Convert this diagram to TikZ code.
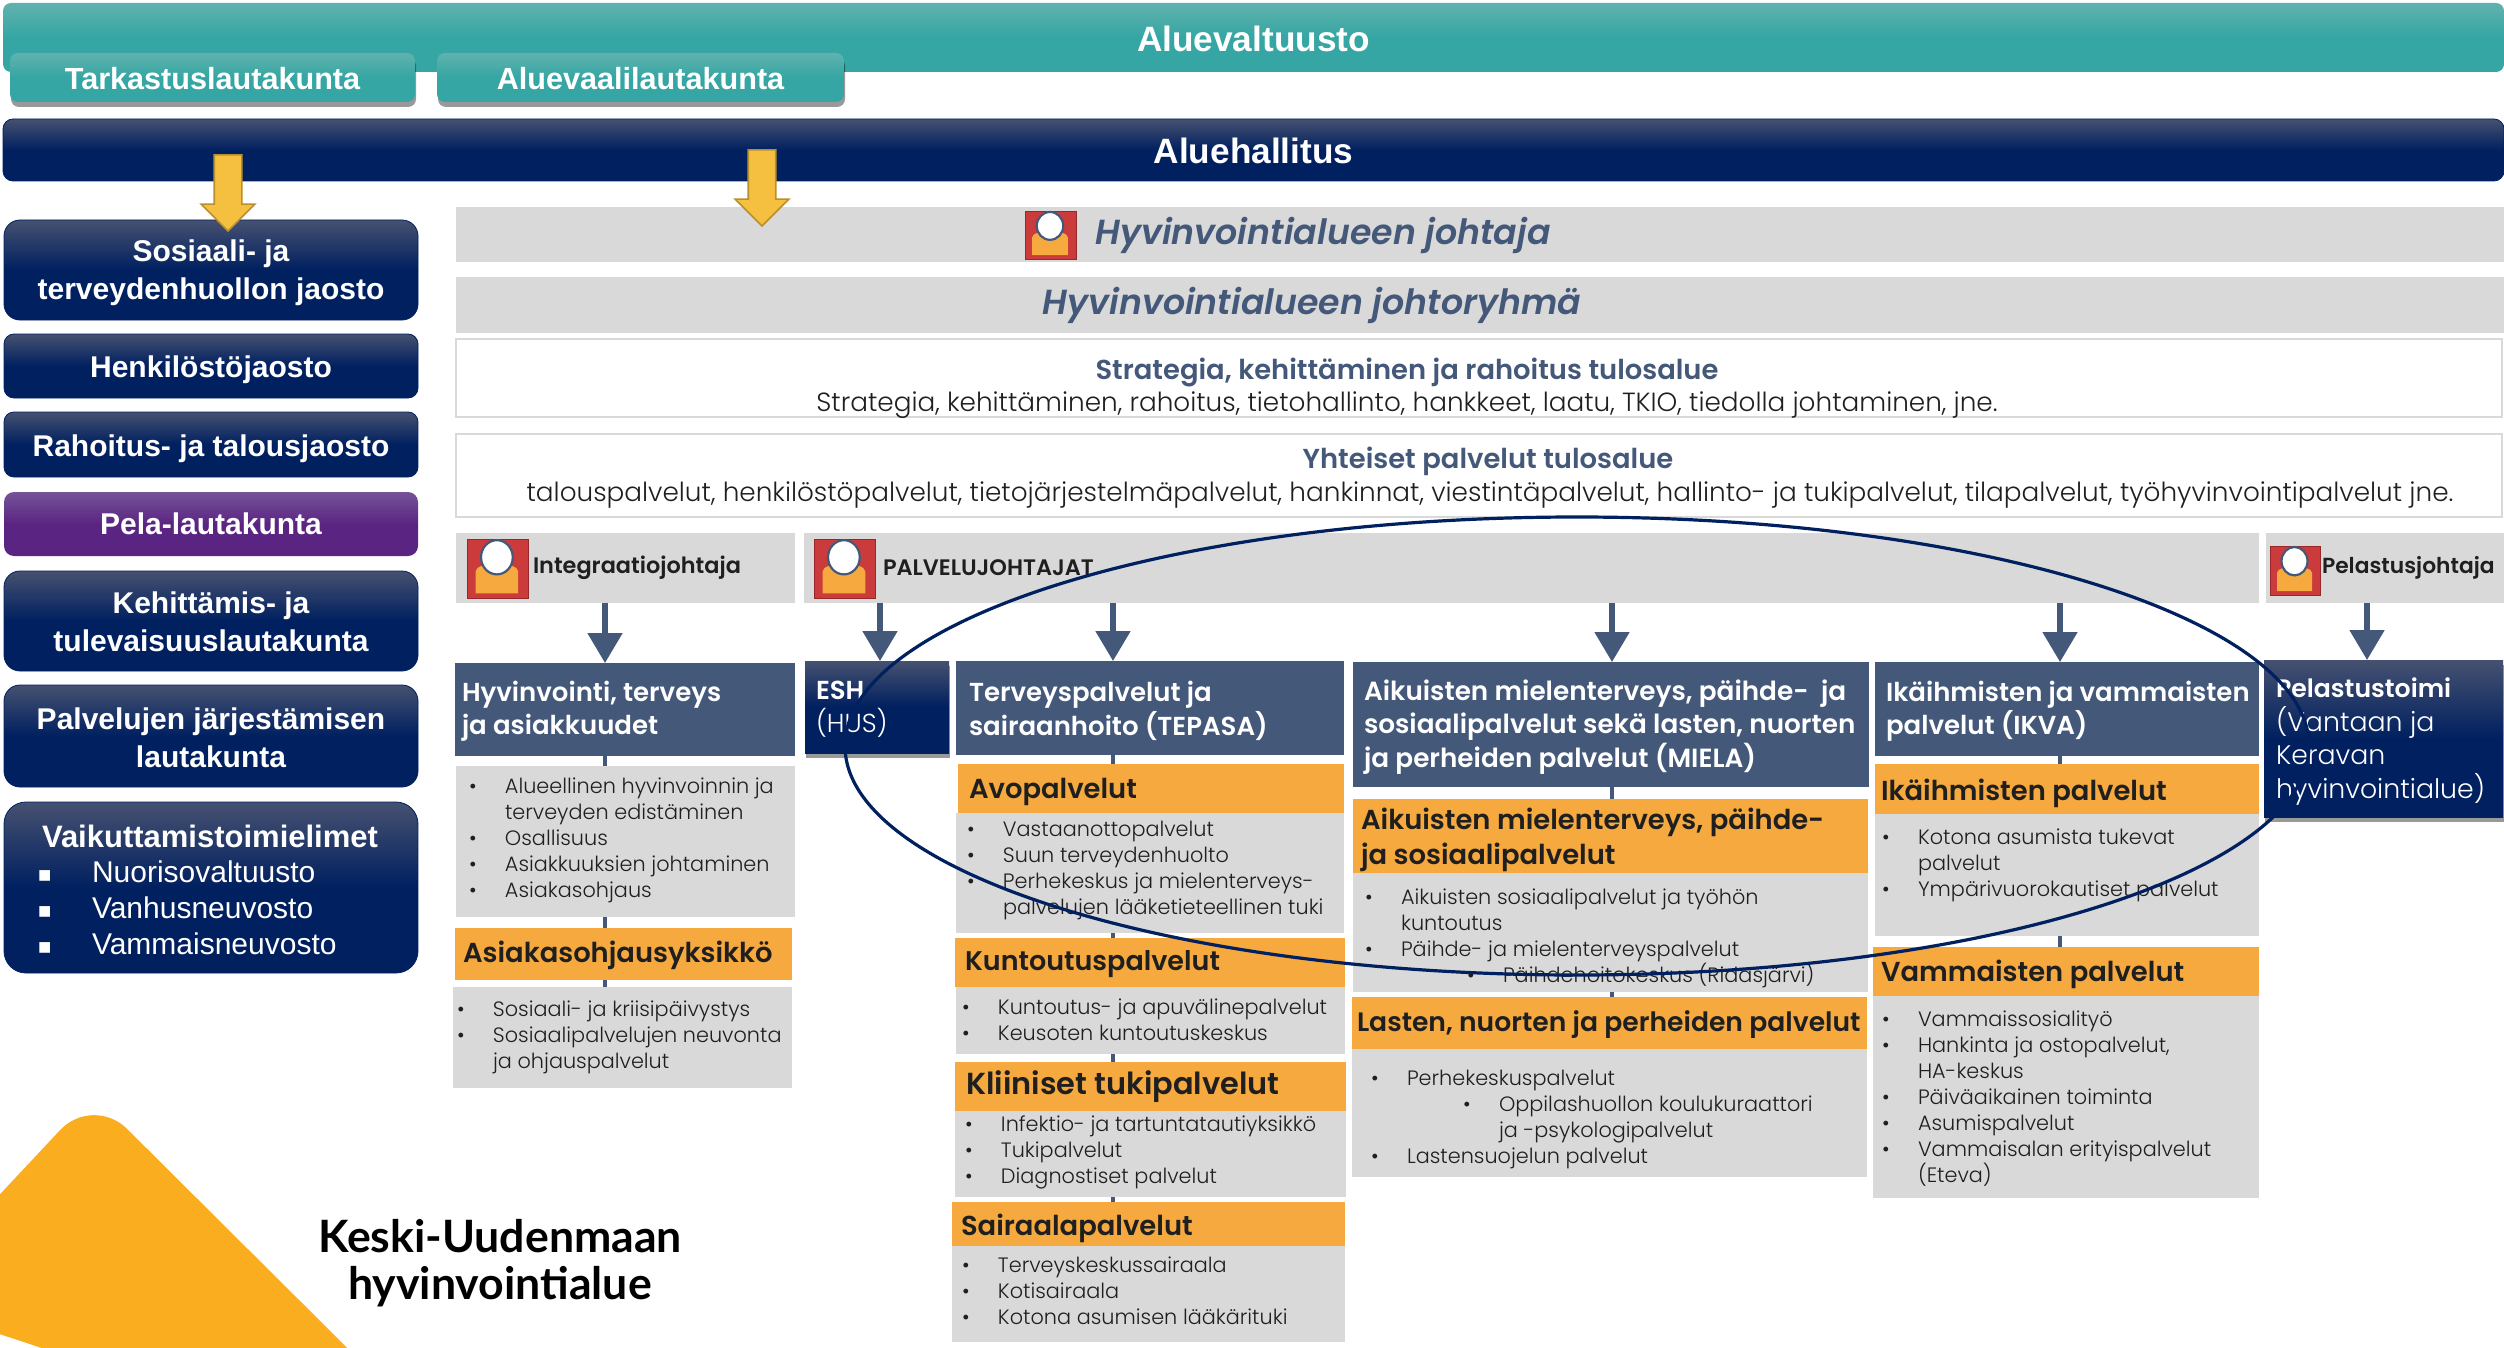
\documentclass[tikz,border=0pt]{standalone}
\usepackage{fontspec}
\usetikzlibrary{arrows.meta,shadows,shapes.arrows}
\setmainfont{Liberation Sans}
\newfontfamily\gothic{Poppins Light}
\newfontfamily\gothicb{Poppins SemiBold}
\newfontfamily\gothicbi{Poppins SemiBold Italic}
\newfontfamily\latof{Lato}
\definecolor{navyA}{HTML}{002060}
\definecolor{navyB}{HTML}{465170}
\definecolor{tealA}{HTML}{35A6A3}
\definecolor{tealB}{HTML}{60B2AE}
\definecolor{purpA}{HTML}{5A2582}
\definecolor{purpB}{HTML}{765298}
\definecolor{slate}{HTML}{44587A}
\definecolor{greybg}{HTML}{D9D9D9}
\definecolor{orng}{HTML}{F5A93F}
\definecolor{gold}{HTML}{F5BF3F}
\definecolor{goldl}{HTML}{B98F2C}
\definecolor{tri}{HTML}{F9AD1F}
\definecolor{ink}{HTML}{1F1F1F}
\definecolor{iconred}{HTML}{CC3B3B}
\definecolor{iconedge}{HTML}{962828}
\pgfdeclareverticalshading{navyshade}{100bp}{color(0bp)=(navyA);color(50bp)=(navyA);color(75bp)=(navyB);color(100bp)=(navyB)}
\pgfdeclareverticalshading{tealshade}{100bp}{color(0bp)=(tealA);color(50bp)=(tealA);color(75bp)=(tealB);color(100bp)=(tealB)}
\pgfdeclareverticalshading{purpshade}{100bp}{color(0bp)=(purpA);color(50bp)=(purpA);color(75bp)=(purpB);color(100bp)=(purpB)}
\tikzset{
 base/.style={rectangle,inner sep=0pt,outer sep=0pt},
 navybar/.style={base,shading=navyshade,draw=navyA,line width=.4pt,rounded corners=5pt},
 tealbar/.style={base,shading=tealshade,rounded corners=4pt},
 purpbar/.style={base,shading=purpshade,rounded corners=5pt},
 barlabel/.style={base,text=white,align=center,font=\bfseries\fontsize{15}{19.2}\selectfont},
 softshadow/.style={drop shadow={shadow xshift=.5pt,shadow yshift=-2.5pt,opacity=.4,fill=black}},
 greybox/.style={base,fill=greybg},
 outlinebox/.style={base,fill=white,draw=greybg,line width=1.2pt},
 orangebox/.style={base,fill=orng},
 slatebox/.style={base,fill=slate},
 navybox/.style={base,shading=navyshade},
 titletext/.style={base,text=slate,font=\gothicbi\fontsize{17.4}{20}\selectfont},
 boxhead/.style={base,text=slate,font=\gothicb\fontsize{13.7}{16}\selectfont},
 boxbody/.style={base,text=ink,font=\gothic\fontsize{13.15}{15}\selectfont},
 chief/.style={base,anchor=west,text=ink,font=\gothicb\fontsize{11.2}{13}\selectfont},
 whitehead/.style={base,anchor=west,align=left,text=white,font=\gothicb\fontsize{13}{16.7}\selectfont},
 orangehead/.style={base,anchor=west,align=left,text=ink,font=\gothicb\fontsize{13.7}{17.5}\selectfont},
 listtext/.style={base,anchor=north west,align=left,text=ink,font=\gothic\fontsize{10.4}{13}\selectfont},
 bluearrow/.style={draw=slate,line width=2.6pt,-{Triangle[width=17pt,length=15pt]}},
 stub/.style={draw=slate,line width=2.4pt},
 goldarrow/.style={single arrow,draw=goldl,fill=gold,line width=.8pt,inner sep=0pt,minimum height=38pt,single arrow head extend=6.5pt,single arrow tip angle=90,single arrow head indent=0pt,shape border rotate=270},
}
\newcommand{\bx}[6][]{\pgfmathsetmacro\bw{(#5-#3)*0.5}\pgfmathsetmacro\bh{(#6-#4)*0.5}\node[#1,minimum width=\bw pt,minimum height=\bh pt] (#2) at ({(#3+#5)/2},{(#4+#6)/2}) {};}
\newcommand{\lb}[3][]{\node[barlabel,#1] (#2t) at (#2.center) {#3};}
\newcommand{\personicon}[4]{\pgfmathsetmacro\iw{(#3-#1)*0.5}\pgfmathsetmacro\ih{(#4-#2)*0.5}
 \begin{scope}[shift={(#1,#2)},x=\iw pt,y=-\ih pt]
 \filldraw[fill=iconred,draw=iconedge,line width=.4pt] (0,0) rectangle (1,1);
 \fill[orng] (0.14,0.92)--(0.14,0.55) .. controls (0.14,0.38) and (0.84,0.38) .. (0.84,0.55) -- (0.84,0.92) -- cycle;
 \filldraw[fill=white,draw=slate,line width=1.1pt] (0.49,0.31) ellipse [x radius=0.26,y radius=0.29];
 \end{scope}}
\newcommand{\bl}{\llap{\makebox[18pt][l]{•}}}
\newcommand{\subbl}[1]{\hspace*{#1}\llap{\makebox[18pt][l]{•}}}
\newcommand{\sq}{\llap{\makebox[27pt][l]{\fontsize{11}{11}\selectfont ■}}}
\begin{document}
\begin{tikzpicture}[x=.5pt,y=-.5pt]
\useasboundingbox (0,0) rectangle (2504,1348);
\fill[white] (0,0) rectangle (2504,1348);
% corner triangle
\begin{scope}
\clip (0,0) rectangle (2504,1348);
\fill[tri,rounded corners=24pt] (-100,1301) -- (93,1095) -- (500,1500) -- cycle;
\end{scope}
\node[base,align=center,text=black,font=\latof\bfseries\fontsize{22.3}{23.5}\selectfont] (brand) at (500,1263) {Keski-Uudenmaan\\hyvinvointialue};
% top bars
\bx[tealbar]{valt}{3}{3}{2504}{72}
\lb[font=\bfseries\fontsize{17.6}{22}\selectfont,yshift=-.6pt]{valt}{Aluevaltuusto}
\bx[tealbar,softshadow]{tark}{10}{53}{415}{102}
\lb[font=\bfseries\fontsize{15.3}{19}\selectfont,yshift=-.4pt]{tark}{Tarkastuslautakunta}
\bx[tealbar,softshadow]{vaali}{437}{53}{844}{102}
\lb[font=\bfseries\fontsize{15.3}{19}\selectfont,yshift=-.4pt]{vaali}{Aluevaalilautakunta}
\bx[navybar]{halli}{3}{119}{2504}{181}
\lb[font=\bfseries\fontsize{17.6}{22}\selectfont,yshift=-.6pt]{halli}{Aluehallitus}
% left column
\bx[navybar,rounded corners=8pt]{jao1}{4}{220}{418}{320}
\lb[yshift=-1.5pt]{jao1}{Sosiaali- ja\\terveydenhuollon jaosto}
\bx[navybar]{jao2}{4}{334}{418}{398}
\lb[yshift=-2pt]{jao2}{Henkilöstöjaosto}
\bx[navybar]{jao3}{4}{412}{418}{477}
\lb[yshift=-2pt]{jao3}{Rahoitus- ja talousjaosto}
\bx[purpbar]{pela}{4}{492}{418}{556}
\lb{pela}{Pela-lautakunta}
\bx[navybar,rounded corners=8pt]{kehi}{4}{571}{418}{671}
\lb[yshift=-.5pt]{kehi}{Kehittämis- ja\\tulevaisuuslautakunta}
\bx[navybar,rounded corners=8pt]{jarj}{4}{685}{418}{787}
\lb[yshift=-.8pt]{jarj}{Palvelujen järjestämisen\\lautakunta}
\bx[navybar,rounded corners=11pt]{vaik}{4}{802}{418}{973}
\node[barlabel,font=\bfseries\fontsize{15.5}{19}\selectfont] (vaikt) at (210,836) {Vaikuttamistoimielimet};
\node[base,anchor=north west,align=left,text=white,font=\fontsize{15}{17.9}\selectfont] (vaikl) at (92,861) {\sq Nuorisovaltuusto\\\sq Vanhusneuvosto\\\sq Vammaisneuvosto};
% grey bars
\bx[greybox]{johtaja}{456}{207}{2504}{262}
\bx[greybox]{ryhma}{456}{277}{2504}{333}
\personicon{1025}{211}{1076}{259}
\node[titletext] (johtajat) at (1323,235) {Hyvinvointialueen johtaja};
\node[titletext] (ryhmat) at (1312,305) {Hyvinvointialueen johtoryhmä};
\bx[outlinebox]{strat}{456}{339}{2502}{417}
\node[boxhead] (stratt) at (1407,372) {Strategia, kehittäminen ja rahoitus tulosalue};
\node[boxbody] (strats) at (1407,405) {Strategia, kehittäminen, rahoitus, tietohallinto, hankkeet, laatu, TKIO, tiedolla johtaminen, jne.};
\bx[outlinebox]{yht}{456}{434}{2502}{517}
\node[boxhead] (yhtt) at (1488,461) {Yhteiset palvelut tulosalue};
\node[boxbody] (yhts) at (1490,495) {talouspalvelut, henkilöstöpalvelut, tietojärjestelmäpalvelut, hankinnat, viestintäpalvelut, hallinto- ja tukipalvelut, tilapalvelut, työhyvinvointipalvelut jne.};
% chiefs
\bx[greybox]{intg}{456}{533}{795}{603}
\bx[greybox]{palv}{804}{533}{2259}{603}
\bx[greybox]{pelj}{2266}{533}{2504}{603}
\personicon{467}{539}{528}{598}
\personicon{814}{539}{875}{598}
\personicon{2270}{546}{2320}{595}
\node[chief] (intgt) at (533,568) {Integraatiojohtaja};
\node[chief] (palvt) at (883,568) {PALVELUJOHTAJAT};
\node[chief,font=\gothicb\fontsize{10.9}{13}\selectfont] (peljt) at (2322,568) {Pelastusjohtaja};
\coordinate (c1) at (605,0);
\coordinate (c2) at (880,0);
\coordinate (c3) at (1113,0);
\coordinate (c4) at (1612,0);
\coordinate (c5) at (2060,0);
\coordinate (c6) at (2367,0);
% column 1
\bx[slatebox]{hyv}{455}{663}{795}{756}
\node[whitehead] (hyvt) at (462,711) {Hyvinvointi, terveys\\ja asiakkuudet};
\bx[greybox]{hyvl}{456}{766}{795}{917}
\node[listtext] (hyvlt) at (505,778) {\bl Alueellinen hyvinvoinnin ja\\terveyden edistäminen\\\bl Osallisuus\\\bl Asiakkuuksien johtaminen\\\bl Asiakasohjaus};
\bx[orangebox]{asi}{455}{928}{792}{980}
\node[orangehead] (asit) at (463,955) {Asiakasohjausyksikkö};
\bx[greybox]{asil}{453}{987}{792}{1088}
\node[listtext] (asilt) at (493,1001) {\bl Sosiaali- ja kriisipäivystys\\\bl Sosiaalipalvelujen neuvonta\\ja ohjauspalvelut};
% ESH
\bx[navybox,softshadow]{esh}{805}{661}{949}{753}
\node[base,anchor=north west,align=left,text=white,font=\gothic\fontsize{13}{16.5}\selectfont] (esht) at (816,681) {{\gothicb ESH}\\(HUS)};
% TEPASA
\bx[slatebox]{tep}{956}{661}{1344}{755}
\node[whitehead] (tept) at (969,711) {Terveyspalvelut ja\\sairaanhoito (TEPASA)};
\bx[orangebox]{avo}{958}{764}{1344}{813}
\node[orangehead] (avot) at (969,792) {Avopalvelut};
\bx[greybox]{avol}{956}{813}{1344}{933}
\node[listtext] (avolt) at (1003,821) {\bl Vastaanottopalvelut\\\bl Suun terveydenhuolto\\\bl Perhekeskus ja mielenterveys-\\palvelujen lääketieteellinen tuki};
\bx[orangebox]{kun}{955}{938}{1345}{987}
\node[orangehead,font=\gothicb\fontsize{13.5}{17.5}\selectfont] (kunt) at (965,964) {Kuntoutuspalvelut};
\bx[greybox]{kunl}{956}{987}{1345}{1054}
\node[listtext] (kunlt) at (998,999) {\bl Kuntoutus- ja apuvälinepalvelut\\\bl Keusoten kuntoutuskeskus};
\bx[orangebox]{kli}{955}{1062}{1346}{1111}
\node[orangehead,font=\gothicb\fontsize{15.2}{17.5}\selectfont] (klit) at (966,1087) {Kliiniset tukipalvelut};
\bx[greybox]{klil}{955}{1111}{1346}{1197}
\node[listtext] (klilt) at (1001,1116) {\bl Infektio- ja tartuntatautiyksikkö\\\bl Tukipalvelut\\\bl Diagnostiset palvelut};
\bx[orangebox]{sai}{952}{1202}{1345}{1246}
\node[orangehead] (sait) at (961,1228) {Sairaalapalvelut};
\bx[greybox]{sail}{952}{1246}{1345}{1342}
\node[listtext] (sailt) at (998,1257) {\bl Terveyskeskussairaala\\\bl Kotisairaala\\\bl Kotona asumisen lääkärituki};
% MIELA
\bx[slatebox]{mie}{1353}{662}{1869}{787}
\node[whitehead,font=\gothicb\fontsize{13.15}{16.7}\selectfont] (miet) at (1364,727) {Aikuisten mielenterveys, päihde-\ \ ja\\sosiaalipalvelut sekä lasten, nuorten\\ja perheiden palvelut (MIELA)};
\bx[orangebox]{aik}{1353}{799}{1868}{873}
\node[orangehead] (aikt) at (1361,840) {Aikuisten mielenterveys, päihde-\\ja sosiaalipalvelut};
\bx[greybox]{aikl}{1353}{873}{1868}{992}
\node[listtext] (aiklt) at (1401,889) {\bl Aikuisten sosiaalipalvelut ja työhön\\kuntoutus\\\bl Päihde- ja mielenterveyspalvelut\\\subbl{51pt}Päihdehoitokeskus (Ridasjärvi)};
\bx[orangebox]{las}{1352}{997}{1867}{1049}
\node[orangehead,font=\gothicb\fontsize{13.3}{17.5}\selectfont] (last) at (1357,1025) {Lasten, nuorten ja perheiden palvelut};
\bx[greybox]{lasl}{1352}{1049}{1867}{1177}
\node[listtext] (laslt) at (1407,1070) {\bl Perhekeskuspalvelut\\\subbl{46pt}Oppilashuollon koulukuraattori\\\hspace*{46pt}ja -psykologipalvelut\\\bl Lastensuojelun palvelut};
% IKVA
\bx[slatebox]{ikv}{1875}{662}{2259}{756}
\node[whitehead] (ikvt) at (1886,711) {Ikäihmisten ja vammaisten\\palvelut (IKVA)};
\bx[orangebox]{ika}{1875}{764}{2259}{814}
\node[orangehead] (ikat) at (1881,793) {Ikäihmisten palvelut};
\bx[greybox]{ikal}{1875}{814}{2259}{936}
\node[listtext] (ikalt) at (1918,829) {\bl Kotona asumista tukevat\\palvelut\\\bl Ympärivuorokautiset palvelut};
\bx[orangebox]{vam}{1873}{947}{2259}{996}
\node[orangehead] (vamt) at (1881,974) {Vammaisten palvelut};
\bx[greybox]{vaml}{1873}{996}{2259}{1198}
\node[listtext] (vamlt) at (1918,1011) {\bl Vammaissosialityö\\\bl Hankinta ja ostopalvelut,\\HA-keskus\\\bl Päiväaikainen toiminta\\\bl Asumispalvelut\\\bl Vammaisalan erityispalvelut\\(Eteva)};
% Pelastustoimi
\bx[navybox,softshadow]{pel}{2264}{660}{2503}{817}
\node[base,anchor=north west,align=left,text=white,font=\gothic\fontsize{13.4}{16.8}\selectfont] (pelt) at (2276,678) {{\gothicb\fontsize{12.6}{16.8}\selectfont Pelastustoimi}\\(Vantaan ja\\Keravan\\hyvinvointialue)};
% stubs
\draw[stub] (hyv.south -| c1) -- (hyvl.north -| c1);
\draw[stub] (hyvl.south -| c1) -- (asi.north -| c1);
\draw[stub] (asi.south -| c1) -- (asil.north -| c1);
\draw[stub] (tep.south -| c3) -- (avo.north -| c3);
\draw[stub] (avol.south -| c3) -- (kun.north -| c3);
\draw[stub] (kunl.south -| c3) -- (kli.north -| c3);
\draw[stub] (klil.south -| c3) -- (sai.north -| c3);
\draw[stub] (mie.south -| c4) -- (aik.north -| c4);
\draw[stub] (aikl.south -| c4) -- (las.north -| c4);
\draw[stub] (ikv.south -| c5) -- (ika.north -| c5);
\draw[stub] (ikal.south -| c5) -- (vam.north -| c5);
% blue arrows
\draw[bluearrow] (intg.south -| c1) -- (hyv.north -| c1);
\draw[bluearrow] (palv.south -| c2) -- (esh.north -| c2);
\draw[bluearrow] (palv.south -| c3) -- (tep.north -| c3);
\draw[bluearrow] (palv.south -| c4) -- (mie.north -| c4);
\draw[bluearrow] (palv.south -| c5) -- (ikv.north -| c5);
\draw[bluearrow] (pelj.south -| c6) -- (pel.north -| c6);
% gold arrows
\node[goldarrow] (ya1) at (228,186) {\phantom{\rule{13pt}{13pt}}};
\node[goldarrow] (ya2) at (762,181) {\phantom{\rule{13pt}{13pt}}};
% ring
\draw[navyA,line width=1.6pt] (1577,746) ellipse [x radius=732,y radius=229];
\end{tikzpicture}
\end{document}
